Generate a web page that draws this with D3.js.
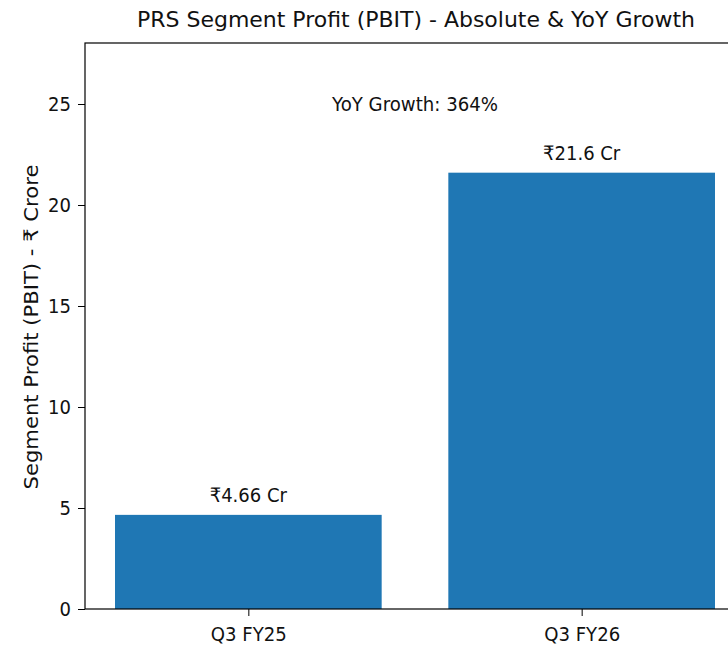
<!DOCTYPE html>
<html><head><meta charset="utf-8">
<script src="https://cdn.jsdelivr.net/npm/d3@7"></script>
<style>body{margin:0;background:#fff}svg{display:block}text{font-family:"DejaVu Sans",sans-serif;fill:#111}</style>
</head><body>
<script>
const categories = ["Q3 FY25", "Q3 FY26"];
const values = [4.66, 21.6];
const valueLabels = ["₹4.66 Cr", "₹21.6 Cr"];
const yTicks = [0, 5, 10, 15, 20, 25];
const title = "PRS Segment Profit (PBIT) - Absolute & YoY Growth";
const yLabel = "Segment Profit (PBIT) - ₹ Crore";
const growthText = "YoY Growth: 364%";
const growthAt = 25;

const W = 728, H = 646;
const L = 85, R = 745, T = 43, B = 609;
const FS = 20;          // base font size
const SQ = 0.9;         // horizontal squeeze of horizontal text
const svg = d3.select("body").append("svg").attr("width", W).attr("height", H);

function squeeze(sel, k) {
  sel.each(function () {
    const n = this.getComputedTextLength();
    d3.select(this).attr("textLength", n * k).attr("lengthAdjust", "spacingAndGlyphs");
  });
}
function fitTo(sel, w) {
  sel.attr("textLength", w).attr("lengthAdjust", "spacingAndGlyphs");
}

const x = d3.scaleLinear().domain([-0.49, 1.49]).range([L, R]);
const y = d3.scaleLinear().domain([0, 28.02]).range([B, T]);
const bw = 0.8;

svg.selectAll("rect.bar").data(values).enter().append("rect")
  .attr("class", "bar")
  .attr("x", (d, i) => x(i - bw / 2))
  .attr("width", (d, i) => x(i + bw / 2) - x(i - bw / 2))
  .attr("y", d => y(d))
  .attr("height", d => y(0) - y(d))
  .attr("fill", "#1f77b4");

const vl = svg.selectAll("text.vl").data(values).enter().append("text")
  .attr("class", "vl")
  .attr("x", (d, i) => x(i))
  .attr("y", d => y(d) - 13)
  .attr("text-anchor", "middle")
  .attr("font-size", FS)
  .text((d, i) => valueLabels[i]);
squeeze(vl, SQ);

const gt = svg.append("text")
  .attr("x", x(0.5)).attr("y", y(growthAt) + 7)
  .attr("text-anchor", "middle").attr("font-size", FS)
  .text(growthText);
fitTo(gt, 166);

// y axis
const yAxis = d3.axisLeft(y).tickValues(yTicks).tickSize(7).tickPadding(7);
const gy = svg.append("g").attr("transform", `translate(${L},0)`).call(yAxis);
gy.select(".domain").remove();
gy.selectAll("line").attr("stroke", "#000");
gy.selectAll("text").attr("font-size", FS).style("font-family", '"DejaVu Sans",sans-serif').attr("fill", "#111");
squeeze(gy.selectAll("text"), SQ);

// x axis
const xAxis = d3.axisBottom(x).tickValues(categories.map((c, i) => i)).tickFormat(i => categories[i]).tickSize(7).tickPadding(11);
const gx = svg.append("g").attr("transform", `translate(0,${B})`).call(xAxis);
gx.select(".domain").remove();
gx.selectAll("line").attr("stroke", "#000");
gx.selectAll("text").attr("font-size", FS).style("font-family", '"DejaVu Sans",sans-serif').attr("fill", "#111");
fitTo(gx.selectAll("text"), 76);

// spines
svg.append("rect").attr("x", L).attr("y", T).attr("width", R - L).attr("height", B - T)
  .attr("fill", "none").attr("stroke", "#000").attr("stroke-width", 1.2);

const yl = svg.append("text")
  .attr("transform", `translate(38,${(T + B) / 2 + 1}) rotate(-90)`)
  .attr("text-anchor", "middle").attr("font-size", FS)
  .text(yLabel);
fitTo(yl, 325);

const tt = svg.append("text")
  .attr("x", 416).attr("y", 27)
  .attr("text-anchor", "middle").attr("font-size", 22)
  .text(title);
fitTo(tt, 558);
</script>
</body></html>
